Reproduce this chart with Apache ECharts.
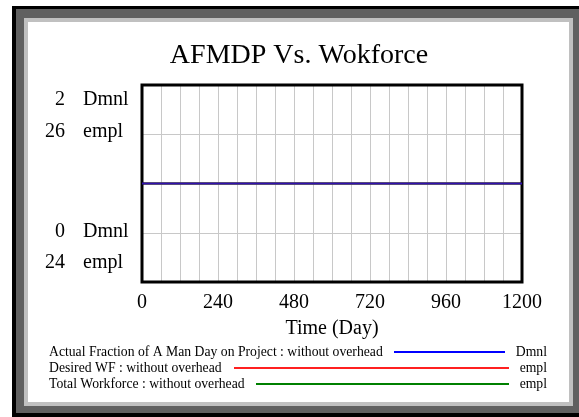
<!DOCTYPE html>
<html>
<head>
<meta charset="utf-8">
<script src="https://cdn.jsdelivr.net/npm/echarts@6/dist/echarts.min.js"></script>
<style>
html,body{margin:0;padding:0;background:#fff;}
#chart{width:579px;height:417px;}
</style>
</head>
<body>
<div id="chart"></div>
<script>
// ---- data ----
const titleText = 'AFMDP Vs. Wokforce';
const xAxisName = 'Time (Day)';
const time = [0, 1200];
const actualFraction = [1, 1];      // Dmnl
const desiredWF = [25, 25];         // empl
const totalWorkforce = [25, 25];    // empl
const xTickLabels = [0, 240, 480, 720, 960, 1200];
const yLabelNums = ['2', '26', '0', '24'];
const yLabelUnits = ['Dmnl', 'empl', 'Dmnl', 'empl'];
const seriesNames = [
  'Actual Fraction of A Man Day on Project : without overhead',
  'Desired WF : without overhead',
  'Total Workforce : without overhead'
];
const seriesUnits = ['Dmnl', 'empl', 'empl'];
const seriesColors = ['#0000ff', '#ff2020', '#008000'];

const FONT = '"Liberation Serif", "Times New Roman", serif';
const chart = echarts.init(document.getElementById('chart'), null, {renderer: 'canvas'});

const gridL = 142, gridT = 85, gridR = 522, gridB = 282;

const graphics = [
  {type: 'rect', z: -100, shape: {x: 12, y: 6, width: 580, height: 420}, style: {fill: '#000000'}},
  {type: 'rect', z: -99, shape: {x: 16, y: 9, width: 570, height: 404}, style: {fill: '#606060'}},
  {type: 'rect', z: -98, shape: {x: 24, y: 18, width: 549, height: 388}, style: {fill: '#c0c0c0'}},
  {type: 'rect', z: -97, shape: {x: 28, y: 22, width: 541, height: 380}, style: {fill: '#ffffff'}},
  {type: 'text', style: {text: titleText, x: 299, y: 56, textAlign: 'center', textVerticalAlign: 'middle', font: '28px ' + FONT, fill: '#000'}}
];
// positions of stacked left labels
const yLabelPos = [100, 132, 232, 263];
yLabelNums.forEach((t, i) => {
  graphics.push({type: 'text', style: {text: t, x: 65, y: yLabelPos[i], textAlign: 'right', textVerticalAlign: 'middle', font: '20px ' + FONT, fill: '#000'}});
  graphics.push({type: 'text', style: {text: yLabelUnits[i], x: 83, y: yLabelPos[i], textAlign: 'left', textVerticalAlign: 'middle', font: '20px ' + FONT, fill: '#000'}});
});
// legend
const legY = [352, 368, 384];
const legLineStart = [394, 234, 256];
seriesNames.forEach((n, i) => {
  graphics.push({type: 'text', style: {text: n, x: 49, y: legY[i], textAlign: 'left', textVerticalAlign: 'middle', font: '13.7px ' + FONT, fill: '#000'}});
  graphics.push({type: 'line', shape: {x1: legLineStart[i], y1: legY[i], x2: i === 0 ? 505 : 509, y2: legY[i]}, style: {stroke: seriesColors[i], lineWidth: 2}});
  graphics.push({type: 'text', style: {text: seriesUnits[i], x: 547, y: legY[i], textAlign: 'right', textVerticalAlign: 'middle', font: '13.7px ' + FONT, fill: '#000'}});
});

const option = {
  animation: false,
  backgroundColor: '#ffffff',
  graphic: graphics,
  grid: {left: gridL, top: gridT, width: gridR - gridL, height: gridB - gridT, show: true, borderColor: '#000', borderWidth: 3, backgroundColor: 'transparent', z: 5},
  xAxis: {
    type: 'value', min: 0, max: 1200, interval: 60,
    axisLine: {show: false}, axisTick: {show: false},
    splitLine: {show: true, lineStyle: {color: '#c8c8c8', width: 1}},
    axisLabel: {
      margin: 11, fontFamily: FONT, fontSize: 20, color: '#000',
      formatter: v => xTickLabels.includes(v) ? String(v) : ''
    },
    name: xAxisName, nameLocation: 'middle', nameGap: 37,
    nameTextStyle: {fontFamily: FONT, fontSize: 20, color: '#000'}
  },
  yAxis: [
    {type: 'value', min: 0, max: 2, interval: 0.5, axisLine: {show: false}, axisTick: {show: false}, axisLabel: {show: false},
     splitLine: {show: true, lineStyle: {color: '#c8c8c8', width: 1}}},
    {type: 'value', min: 24, max: 26, interval: 0.5, axisLine: {show: false}, axisTick: {show: false}, axisLabel: {show: false},
     splitLine: {show: false}}
  ],
  series: [
    {name: seriesNames[1], type: 'line', yAxisIndex: 1, showSymbol: false, z: 3,
     data: time.map((t, i) => [t, desiredWF[i]]), lineStyle: {color: seriesColors[1], width: 2}},
    {name: seriesNames[2], type: 'line', yAxisIndex: 1, showSymbol: false, z: 4,
     data: time.map((t, i) => [t, totalWorkforce[i]]), lineStyle: {color: seriesColors[2], width: 2}},
    {name: seriesNames[0], type: 'line', yAxisIndex: 0, showSymbol: false, z: 6,
     data: time.map((t, i) => [t, actualFraction[i]]), lineStyle: {color: '#3010b0', width: 2}}
  ]
};
chart.setOption(option);
</script>
</body>
</html>
